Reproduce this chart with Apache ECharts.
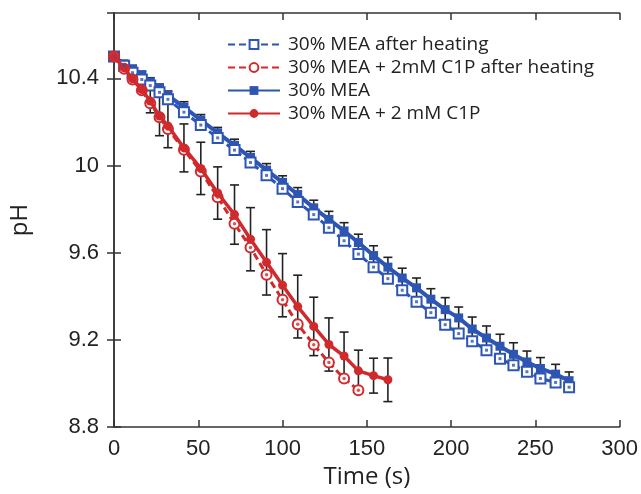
<!DOCTYPE html>
<html>
<head>
<meta charset="utf-8">
<script src="https://cdn.jsdelivr.net/npm/echarts@6/dist/echarts.min.js"></script>
<style>
html,body{margin:0;padding:0;background:#fff;}
#chart{width:641px;height:494px;}
</style>
</head>
<body>
<div id="chart"></div>
<script>
// Shared measurement times (s)
const times = [0, 6, 11, 16.5, 21.5, 27, 32, 41.5, 51.5, 61.5, 71.5, 81, 90.5, 100, 109, 118.5, 127.5, 136.5, 145, 154, 162.5, 171, 179.5, 188, 196.5, 204.5, 212.5, 221, 229, 237, 245, 253, 262, 270];

// 30% MEA
const mea = [10.50, 10.467, 10.444, 10.417, 10.383, 10.354, 10.322, 10.268, 10.209, 10.150, 10.093, 10.037, 9.979, 9.923, 9.867, 9.806, 9.753, 9.700, 9.647, 9.587, 9.534, 9.484, 9.439, 9.387, 9.339, 9.301, 9.250, 9.209, 9.171, 9.134, 9.099, 9.069, 9.043, 9.013];
const meaErr = [0, 0.01, 0.015, 0.015, 0.02, 0.02, 0.02, 0.025, 0.025, 0.025, 0.028, 0.028, 0.03, 0.03, 0.032, 0.035, 0.037, 0.038, 0.038, 0.045, 0.045, 0.045, 0.045, 0.048, 0.055, 0.05, 0.055, 0.055, 0.055, 0.053, 0.05, 0.05, 0.045, 0.04];

// 30% MEA after heating
const meaHeated = [10.50, 10.458, 10.426, 10.395, 10.367, 10.336, 10.304, 10.245, 10.186, 10.127, 10.071, 10.014, 9.955, 9.894, 9.833, 9.775, 9.715, 9.655, 9.594, 9.534, 9.481, 9.428, 9.375, 9.325, 9.270, 9.229, 9.194, 9.153, 9.114, 9.084, 9.054, 9.023, 9.005, 8.983];

// 30% MEA + 2 mM C1P
const c1p = [10.50, 10.448, 10.398, 10.349, 10.296, 10.227, 10.182, 10.081, 9.987, 9.874, 9.775, 9.662, 9.556, 9.451, 9.353, 9.262, 9.179, 9.126, 9.058, 9.036, 9.017];
const c1pErr = [0, 0, 0, 0, 0.054, 0.09, 0.10, 0.11, 0.12, 0.12, 0.136, 0.145, 0.15, 0.145, 0.144, 0.134, 0.122, 0.11, 0.095, 0.08, 0.10];

// 30% MEA + 2mM C1P after heating
const c1pHeated = [10.50, 10.444, 10.395, 10.345, 10.286, 10.222, 10.168, 10.073, 9.973, 9.855, 9.733, 9.624, 9.499, 9.384, 9.272, 9.178, 9.096, 9.023, 8.969];

const xTicks = {min: 0, max: 300, step: 50};
const yTicks = {min: 8.8, max: 10.7, step: 0.4};

const names = ['30% MEA after heating', '30% MEA + 2mM C1P after heating', '30% MEA', '30% MEA + 2 mM C1P'];

const BLUE = '#2d55b3';
const RED = '#d02a2d';
const INK = '#222';

function pairs(arr) { return arr.map((v, i) => [times[i], v]); }
function errData(arr, err) { return arr.map((v, i) => [times[i], v, err[i]]).filter(d => d[2] > 0); }

function errRender(params, api) {
  const x = api.value(0), y = api.value(1), e = api.value(2);
  const top = api.coord([x, y + e]);
  const bot = api.coord([x, y - e]);
  const hw = 4.5;
  const st = {stroke: INK, lineWidth: 1.6};
  return {type: 'group', children: [
    {type: 'line', shape: {x1: top[0], y1: top[1], x2: bot[0], y2: bot[1]}, style: st},
    {type: 'line', shape: {x1: top[0] - hw, y1: top[1], x2: top[0] + hw, y2: top[1]}, style: st},
    {type: 'line', shape: {x1: bot[0] - hw, y1: bot[1], x2: bot[0] + hw, y2: bot[1]}, style: st}
  ]};
}

const axisLineStyle = {color: '#333', width: 1.5};
const tickStyle = {inside: true, length: 7, lineStyle: {color: '#333', width: 1.5}};

const chart = echarts.init(document.getElementById('chart'));
chart.setOption({
  animation: false,
  backgroundColor: '#fff',
  grid: {left: 110, right: 21, top: 13, bottom: 62},
  legend: {
    data: names,
    orient: 'vertical',
    left: 222,
    top: 30,
    itemWidth: 52,
    itemHeight: 11,
    itemGap: 4,
    textStyle: {fontFamily: 'Open Sans', fontSize: 19, color: INK, padding: [0, 0, 0, 3]}
  },
  xAxis: [{
    type: 'value', min: xTicks.min, max: xTicks.max, interval: xTicks.step,
    name: 'Time (s)', nameLocation: 'middle', nameGap: 34,
    nameTextStyle: {fontFamily: 'Open Sans', fontSize: 24, color: INK},
    axisLine: {lineStyle: axisLineStyle}, axisTick: tickStyle,
    axisLabel: {fontFamily: 'Liberation Sans', fontSize: 22, color: INK, margin: 11},
    splitLine: {show: false}
  }, {
    type: 'value', position: 'top', min: xTicks.min, max: xTicks.max, interval: xTicks.step,
    axisLine: {show: true, lineStyle: axisLineStyle}, axisTick: tickStyle,
    axisLabel: {show: false}, splitLine: {show: false}
  }],
  yAxis: [{
    type: 'value', min: yTicks.min, max: yTicks.max, interval: yTicks.step,
    name: 'pH', nameLocation: 'middle', nameGap: 82, nameRotate: 90,
    nameTextStyle: {fontFamily: 'Open Sans', fontSize: 24, color: INK},
    axisLine: {show: true, lineStyle: axisLineStyle}, axisTick: tickStyle,
    axisLabel: {fontFamily: 'Liberation Sans', fontSize: 22, color: INK, margin: 15, showMaxLabel: false},
    splitLine: {show: false}
  }, {
    type: 'value', position: 'right', min: yTicks.min, max: yTicks.max, interval: yTicks.step,
    axisLine: {show: true, lineStyle: axisLineStyle}, axisTick: tickStyle,
    axisLabel: {show: false}, splitLine: {show: false}
  }],
  series: [
    {type: 'custom', name: 'errMEA', renderItem: errRender, data: errData(mea, meaErr), encode: {x: 0, y: 1}, z: 1, silent: true},
    {type: 'custom', name: 'errC1P', renderItem: errRender, data: errData(c1p, c1pErr), encode: {x: 0, y: 1}, z: 1, silent: true},
    {
      type: 'line', name: names[2], data: pairs(mea), z: 3,
      symbol: 'rect', symbolSize: 9, showAllSymbol: true,
      lineStyle: {color: BLUE, width: 4}, itemStyle: {color: BLUE}
    },
    {
      type: 'line', name: names[0], data: pairs(meaHeated), z: 4,
      symbol: 'rect', symbolSize: 10, showAllSymbol: true,
      lineStyle: {color: BLUE, width: 3, type: [7, 4]},
      itemStyle: {color: '#fff', borderColor: BLUE, borderWidth: 2}
    },
    {
      type: 'line', name: names[1], data: pairs(c1pHeated), z: 4,
      symbol: 'circle', symbolSize: 10, showAllSymbol: true,
      lineStyle: {color: RED, width: 3, type: [7, 4]},
      itemStyle: {color: '#fff', borderColor: RED, borderWidth: 2}
    },
    {
      type: 'line', name: names[3], data: pairs(c1p), z: 5,
      symbol: 'circle', symbolSize: 9, showAllSymbol: true,
      lineStyle: {color: RED, width: 3.5}, itemStyle: {color: RED}
    },
    {type: 'scatter', name: 'dotMEA', data: pairs(meaHeated), symbol: 'rect', symbolSize: 3, itemStyle: {color: BLUE}, z: 6, silent: true},
    {type: 'scatter', name: 'dotC1P', data: pairs(c1pHeated), symbol: 'circle', symbolSize: 3.5, itemStyle: {color: RED}, z: 6, silent: true}
  ]
});
</script>
</body>
</html>
